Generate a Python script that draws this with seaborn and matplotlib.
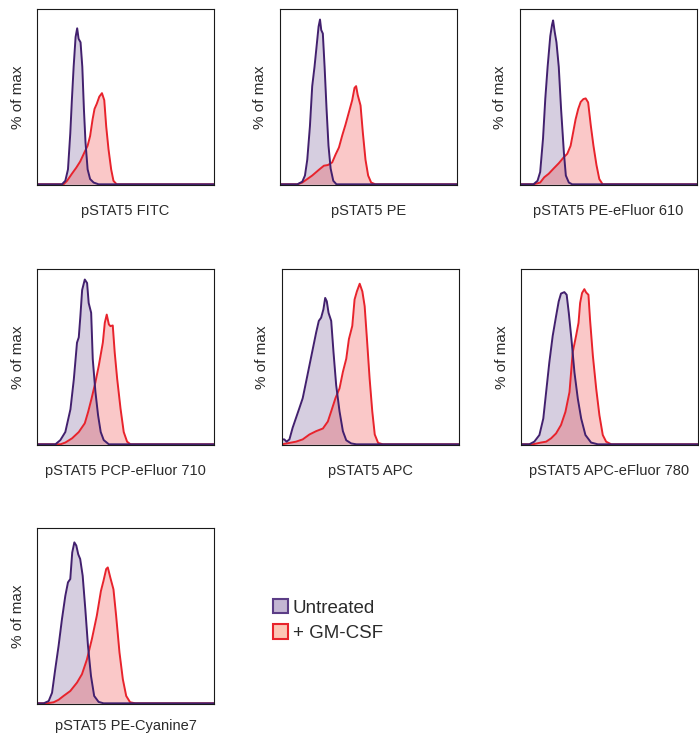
import matplotlib
matplotlib.use("Agg")
import matplotlib.pyplot as plt
from matplotlib.patches import Patch
import pandas as pd
import seaborn as sns

# ---------------- data (x: % of axis width, y: % of max) ----------------
panel_labels = ["pSTAT5 FITC", "pSTAT5 PE", "pSTAT5 PE-eFluor 610",
                "pSTAT5 PCP-eFluor 710", "pSTAT5 APC", "pSTAT5 APC-eFluor 780",
                "pSTAT5 PE-Cyanine7"]
conditions = ["Untreated", "+ GM-CSF"]

fitc_untreated = [(0, 0), (14.1, 0), (16, 2), (17.5, 8.5), (18.8, 29), (19.7, 48), (20.7, 67),
                  (21.8, 84), (22.7, 89), (23.5, 83), (24.6, 81), (25.6, 67), (26.5, 43),
                  (27.4, 24), (28.6, 8.5), (30, 3), (32, 1), (34.8, 0), (100, 0)]
fitc_gmcsf = [(0, 0), (15, 0), (17, 2), (19.7, 6), (22.2, 9.5), (24.4, 13), (26.7, 18),
              (28.6, 22), (30, 27.5), (31.4, 37), (32.5, 43), (33.8, 46), (35.2, 50),
              (36.7, 52), (38, 48), (39.1, 33), (40.4, 20), (41.9, 8.5), (43.2, 2),
              (45, 0), (100, 0)]

pe_untreated = [(0, 0), (9.8, 0), (12.6, 1.5), (14.1, 5), (15.4, 14), (16.9, 33), (18.2, 56),
                (19.5, 67), (20.7, 79), (21.8, 90), (22.6, 94), (23.3, 88), (24.2, 86),
                (25.2, 67), (26.3, 43), (27.4, 22), (28.6, 9), (30.1, 2), (31.9, 0), (100, 0)]
pe_gmcsf = [(0, 0), (9.8, 0), (12.6, 1), (15.4, 3), (18.2, 5), (22, 8.3), (24.8, 10.6),
            (27.1, 11), (29.5, 12.5), (31.4, 17), (33.3, 21), (35.2, 28), (37, 34),
            (38.9, 41), (40.8, 48), (42.1, 55), (43, 56), (43.9, 51), (45.5, 45),
            (46.8, 29.5), (48.3, 14), (49.8, 5), (51.5, 1), (53.9, 0), (100, 0)]

pe610_untreated = [(0, 0), (7.6, 0), (9.9, 2), (11.4, 7), (13, 26), (14.3, 49), (15.6, 67),
                   (17.1, 84.5), (18.1, 91), (18.7, 93.5), (19.6, 87), (20.6, 81), (21.9, 67),
                   (23.2, 43), (24.8, 18), (25.9, 5), (27.6, 1), (29.5, 0), (100, 0)]
pe610_gmcsf = [(0, 0), (7.6, 0), (11.4, 1), (13.7, 4), (16.2, 6), (19, 9), (21.9, 12),
               (24.8, 15.5), (26.7, 17.4), (28.6, 22), (30.1, 30), (31.4, 37), (32.9, 43),
               (34.3, 47), (35.8, 48.6), (37.1, 49), (38.5, 46.7), (40, 33.5), (41.5, 22),
               (43.2, 11), (44.8, 3), (46.7, 0), (100, 0)]

pcp710_untreated = [(0, 0), (10.4, 0), (13.2, 2.4), (16, 7), (18.9, 20), (20.8, 37),
                    (22.6, 58), (23.6, 61), (24.5, 73), (25.5, 88), (27, 94), (28.3, 92),
                    (29.2, 80.6), (30.6, 75), (31.5, 48.6), (33, 30), (34.5, 16.6), (36, 7),
                    (37.7, 2.4), (40.6, 0), (100, 0)]
pcp710_gmcsf = [(0, 0), (13.2, 0), (16, 1), (19.8, 3.4), (23.6, 7), (27, 12), (28.9, 18.5),
                (30.8, 26), (33, 35.4), (34.9, 44.8), (37.2, 58), (38.3, 69.3), (39.4, 74),
                (40.6, 68.4), (41.5, 67.4), (42.8, 67.8), (43.9, 52.4), (45.3, 37.3),
                (47.2, 20.3), (49, 7), (50.9, 1.5), (52.8, 0), (100, 0)]

apc_untreated = [(0, 2.8), (1.3, 2.8), (2.6, 1.5), (4.2, 2.8), (6, 9.4), (7.9, 15), (9.8, 20.6),
                 (11.7, 26.3), (13.6, 35.6), (15.5, 45), (17.4, 54.4), (19.3, 63.8),
                 (20.8, 70.4), (22.1, 72.2), (23.4, 77), (24.4, 83.5), (25.3, 81.6),
                 (26.3, 75), (27.8, 70.4), (29.1, 52.5), (30.6, 33.8), (32.5, 18.8),
                 (34.4, 7.5), (36.3, 2.3), (39.1, 0.5), (42, 0), (100, 0)]
apc_gmcsf = [(0, 0), (4.2, 0.8), (7.9, 1.5), (11.7, 2.8), (15.5, 5.6), (19.3, 7.5), (23.1, 9),
             (25.9, 13), (27.8, 18.8), (30.2, 26.3), (32.5, 31.9), (34.4, 41.3), (36.3, 48.8),
             (37.8, 60), (39.7, 67.5), (41, 82.6), (42.3, 87.2), (43.9, 91.6), (45.4, 87.2),
             (46.7, 78.8), (48, 60), (49.5, 37.5), (51, 18.8), (52.4, 5.6), (54.3, 0.8),
             (57, 0), (100, 0)]

apc780_untreated = [(0, 0), (4.7, 0), (7.5, 1.5), (10.4, 5.3), (12.6, 14.7), (14.2, 29.8),
                    (16, 46.7), (17.9, 61.8), (19.8, 73), (21.3, 81.5), (22.6, 86),
                    (24.5, 86.8), (25.8, 85.3), (27, 75), (28.5, 60), (30.2, 41), (32.1, 26),
                    (34, 14.7), (36.4, 5.3), (39.6, 1), (43.4, 0), (100, 0)]
apc780_gmcsf = [(0, 0), (6.6, 0), (11.3, 1), (14.2, 1.5), (17, 3.4), (19.8, 6.2), (22.6, 11),
                (25.1, 18.5), (27.4, 29.8), (29.2, 52.4), (31.1, 61.8), (32.5, 69.3),
                (33.4, 80.6), (34.5, 86.3), (35.8, 88.5), (36.8, 86.6), (38.1, 85.3),
                (39, 71.2), (40.6, 50.5), (42.5, 31.6), (44.3, 16.6), (46.2, 5.3),
                (48.1, 1.5), (51, 0), (100, 0)]

pecy7_untreated = [(0, 0), (3.8, 0), (6.6, 1.3), (8.5, 6), (10.3, 19.4), (12.2, 32.8),
                   (14.1, 48), (16, 61.3), (17.5, 69), (18.8, 70.9), (19.9, 86), (21.1, 91.8),
                   (22.2, 90), (23.3, 85), (24.4, 82.3), (25.8, 72.8), (27.3, 53.7),
                   (28.8, 32.8), (30.5, 15.6), (32.3, 4.2), (34.8, 0.8), (37.6, 0), (100, 0)]
pecy7_gmcsf = [(0, 0), (5.6, 0), (9.4, 0.6), (12.2, 2), (15, 4.2), (18.8, 7), (22.6, 11.8),
               (25.4, 16.6), (28.2, 25), (31, 36.6), (33.8, 50), (36.1, 64), (37.6, 70),
               (39.1, 76.6), (40, 77.5), (41.4, 71.8), (43.2, 65), (44.7, 50), (46.6, 29),
               (48.5, 13.7), (50.4, 4.2), (52.6, 0.6), (55.5, 0), (100, 0)]

curves = [(fitc_untreated, fitc_gmcsf), (pe_untreated, pe_gmcsf),
          (pe610_untreated, pe610_gmcsf), (pcp710_untreated, pcp710_gmcsf),
          (apc_untreated, apc_gmcsf), (apc780_untreated, apc780_gmcsf),
          (pecy7_untreated, pecy7_gmcsf)]

rows = []
for label, pair in zip(panel_labels, curves):
    for cond, pts in zip(conditions, pair):
        for i, (x, y) in enumerate(pts):
            rows.append({"panel": label, "condition": cond, "order": i, "x": x, "y": y})
df = pd.DataFrame(rows)

# ---------------- style ----------------
sns.set_theme(style="white")
plt.rcParams["font.family"] = ["Liberation Sans", "DejaVu Sans"]

line_colors = {"Untreated": "#42206e", "+ GM-CSF": "#e8232c"}
fill_colors = {"Untreated": "#7a5f9a", "+ GM-CSF": "#f03c3c"}
fill_alpha = {"Untreated": 0.30, "+ GM-CSF": 0.28}
text_color = "#2b2b2b"

W, H = 699, 736
fig = plt.figure(figsize=(W / 100, H / 100), dpi=100)
boxes = [(37, 9), (280, 9), (520, 9), (37, 269), (282, 269), (521, 269), (37, 528)]
label_pads = [14, 14, 14, 14, 14, 14, 10.5]
aw, ah = 177, 176

for label, (l, t), pad in zip(panel_labels, boxes, label_pads):
    ax = fig.add_axes([l / W, 1 - (t + ah) / H, aw / W, ah / H])
    sub = df[df["panel"] == label]
    for cond in conditions:
        s = sub[sub["condition"] == cond].sort_values("order")
        ax.fill_between(s["x"], 0, s["y"], color=fill_colors[cond],
                        alpha=fill_alpha[cond], lw=0)
    sns.lineplot(data=sub, x="x", y="y", hue="condition", hue_order=conditions[::-1],
                 palette=line_colors, estimator=None, sort=False, legend=False,
                 lw=1.4, ax=ax)
    ax.set_xlim(0, 100)
    ax.set_ylim(-0.4, 100)
    ax.set_xticks([])
    ax.set_yticks([])
    for sp in ax.spines.values():
        sp.set_color("#1a1a1a")
        sp.set_linewidth(0.8)
    ax.set_xlabel(label, fontsize=10.5, color=text_color, labelpad=pad)
    ax.set_ylabel("% of max", fontsize=11, color=text_color, labelpad=9)

handles = [Patch(facecolor="#c3b6d3", edgecolor="#5b3d86", lw=1.5),
           Patch(facecolor="#fcc6b6", edgecolor="#e8232c", lw=1.5)]
fig.legend(handles, conditions, loc="upper left",
           bbox_to_anchor=(273 / W, 1 - 599 / H), frameon=False, fontsize=13.5,
           handlelength=0.8, handleheight=0.8, handletextpad=0.25,
           labelspacing=0.4, borderpad=0, borderaxespad=0, labelcolor=text_color)

fig.savefig("out.png", dpi=100)
